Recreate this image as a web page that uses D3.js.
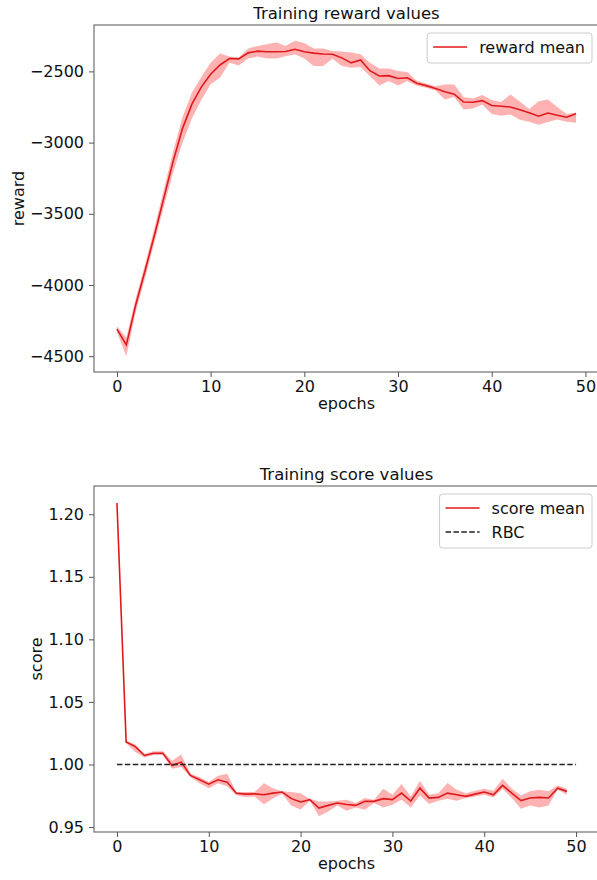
<html>
<head>
<meta charset="utf-8">
<title>training curves</title>
<script type="text/javascript" src="https://cdn.jsdelivr.net/npm/d3@7/dist/d3.min.js"></script>
<style>
	body {margin:0px; padding:0px; background:white; overflow:hidden;}
	svg text {font-family:"DejaVu Sans", sans-serif; fill:#111;}
	.axis path, .axis line {stroke:#555;}
</style>
</head>
<body>
<svg id="fig" width="597" height="880"></svg>
<script type="text/javascript">

// epochs 0..49
var epochs = [0,1,2,3,4,5,6,7,8,9,10,11,12,13,14,15,16,17,18,19,20,21,22,23,24,25,26,27,28,29,30,31,32,33,34,35,36,37,38,39,40,41,42,43,44,45,46,47,48,49];

var rewardMean = [-4310,-4420,-4140,-3900,-3650,-3390,-3130,-2900,-2730,-2610,
	-2520,-2455,-2410,-2412,-2370,-2358,-2362,-2362,-2360,-2345,
	-2362,-2372,-2378,-2380,-2405,-2440,-2420,-2495,-2532,-2530,
	-2550,-2545,-2583,-2600,-2620,-2643,-2660,-2715,-2717,-2705,
	-2740,-2745,-2750,-2770,-2790,-2815,-2792,-2808,-2822,-2797];
var rewardLo = [-4330,-4500,-4190,-3950,-3700,-3450,-3210,-3000,-2830,-2700,
	-2590,-2545,-2440,-2458,-2410,-2396,-2410,-2410,-2393,-2380,
	-2410,-2462,-2462,-2412,-2462,-2474,-2470,-2533,-2599,-2568,
	-2599,-2568,-2600,-2615,-2635,-2697,-2680,-2768,-2760,-2735,
	-2800,-2812,-2803,-2839,-2853,-2874,-2855,-2838,-2853,-2860];
var rewardHi = [-4290,-4370,-4095,-3855,-3600,-3330,-3060,-2820,-2650,-2540,
	-2440,-2375,-2396,-2403,-2340,-2321,-2310,-2295,-2321,-2285,
	-2300,-2340,-2340,-2357,-2360,-2368,-2380,-2439,-2480,-2480,
	-2498,-2505,-2566,-2585,-2605,-2592,-2592,-2679,-2690,-2665,
	-2700,-2715,-2662,-2712,-2764,-2710,-2698,-2750,-2800,-2789];

var scoreMean = [1.209,1.018,1.0143,1.0072,1.009,1.009,0.9992,1.0019,0.9912,0.9878,
	0.9843,0.9878,0.9859,0.9770,0.9763,0.9765,0.9758,0.9771,0.9780,0.9727,
	0.9700,0.9719,0.9652,0.9673,0.9692,0.9680,0.9673,0.9705,0.9705,0.9727,
	0.9719,0.9771,0.9708,0.9811,0.9731,0.9737,0.9771,0.9758,0.9745,0.9763,
	0.9780,0.9758,0.9833,0.9771,0.9711,0.9732,0.9737,0.9732,0.9811,0.9785];
var scoreLo = [1.208,1.017,1.010,1.0056,1.0075,1.0075,0.9965,0.998,0.990,0.985,
	0.981,0.985,0.9825,0.9755,0.974,0.9745,0.968,0.973,0.9765,0.967,
	0.964,0.9711,0.9586,0.9625,0.9673,0.9631,0.9657,0.9639,0.9692,0.9657,
	0.9679,0.9719,0.9657,0.9753,0.9684,0.9711,0.9727,0.9711,0.9732,0.9745,
	0.9758,0.9737,0.9806,0.9732,0.9647,0.9673,0.9657,0.9673,0.9798,0.9758];
var scoreHi = [1.210,1.019,1.016,1.0085,1.0105,1.0105,1.003,1.008,0.9925,0.990,
	0.986,0.991,0.9925,0.978,0.978,0.978,0.985,0.981,0.9785,0.978,
	0.977,0.9727,0.9705,0.9705,0.9711,0.9719,0.9692,0.9732,0.9719,0.9806,
	0.9758,0.9843,0.9745,0.9870,0.9758,0.9771,0.9851,0.9798,0.9771,0.9790,
	0.9806,0.9790,0.9886,0.9806,0.9753,0.9785,0.9798,0.9785,0.9833,0.9806];

var rbcEpochs = [0, 50];
var rbcValue = [1.0, 1.0];

var xTicks = [0, 10, 20, 30, 40, 50];
var rewardTicks = [-4500, -4000, -3500, -3000, -2500];
var scoreTicks = [0.95, 1.00, 1.05, 1.10, 1.15, 1.20];

var lineColor = '#e0191c';

var svg = d3.select('#fig');

// matplotlib style 5% margins
function padded(lo, hi) {
	var r = hi - lo;
	return [lo - 0.05*r, hi + 0.05*r];
}

function panel(opt) {
	var g = svg.append('g').attr('transform', 'translate(' + opt.left + ',' + opt.top + ')');
	var w = opt.width, h = opt.height;

	var x = d3.scaleLinear().domain(padded(opt.xmin, opt.xmax)).range([0, w]);
	var y = d3.scaleLinear().domain(padded(d3.min(opt.lo), d3.max(opt.hi))).range([h, 0]);

	// band
	var area = d3.area()
		.x(function(d, i) {return x(epochs[i])})
		.y0(function(d, i) {return y(opt.lo[i])})
		.y1(function(d, i) {return y(opt.hi[i])});
	g.append('path')
		.datum(opt.mean)
		.attr('d', area)
		.attr('fill', 'red')
		.attr('fill-opacity', 0.3);

	var line = d3.line()
		.x(function(d, i) {return x(epochs[i])})
		.y(function(d) {return y(d)});
	g.append('path')
		.datum(opt.mean)
		.attr('d', line)
		.attr('fill', 'none')
		.attr('stroke', lineColor)
		.attr('stroke-width', 1.6);

	if (opt.rbc) {
		g.append('path')
			.datum(rbcValue)
			.attr('d', d3.line().x(function(d, i) {return x(rbcEpochs[i])}).y(function(d) {return y(d)}))
			.attr('fill', 'none')
			.attr('stroke', '#222')
			.attr('stroke-width', 1.5)
			.attr('stroke-dasharray', '5.5,2.4');
	}

	// axes
	var xa = g.append('g').attr('class', 'axis')
		.attr('transform', 'translate(0,' + h + ')')
		.call(d3.axisBottom(x).tickValues(xTicks).tickSize(5).tickPadding(4).tickFormat(d3.format('d')));
	var ya = g.append('g').attr('class', 'axis')
		.call(d3.axisLeft(y).tickValues(opt.yticks).tickSize(5).tickPadding(5).tickFormat(opt.yfmt));
	xa.select('.domain').remove();
	ya.select('.domain').remove();
	xa.selectAll('text').attr('font-size', '16px').attr('fill', '#111');
	ya.selectAll('text').attr('font-size', '16px').attr('fill', '#111');

	g.append('rect')
		.attr('x', 0).attr('y', 0).attr('width', w).attr('height', h)
		.attr('fill', 'none').attr('stroke', '#555').attr('stroke-width', 1);

	g.append('text')
		.attr('x', w/2).attr('y', -6)
		.attr('text-anchor', 'middle')
		.attr('font-size', '16.5px')
		.text(opt.title);

	g.append('text')
		.attr('x', w/2).attr('y', h + 37)
		.attr('text-anchor', 'middle')
		.attr('font-size', '16px')
		.text('epochs');

	var yb = ya.node().getBBox();
	g.append('text')
		.attr('transform', 'translate(' + (yb.x - 6) + ',' + (h/2) + ') rotate(-90)')
		.attr('text-anchor', 'middle')
		.attr('font-size', '16px')
		.text(opt.ylabel);

	// legend
	var leg = g.append('g');
	var items = opt.legend;
	var texts = [];
	items.forEach(function(it, i) {
		var t = leg.append('text')
			.attr('x', 52).attr('y', 20 + i*24)
			.attr('font-size', '16px')
			.text(it.label);
		texts.push(t);
	});
	var tw = d3.max(texts, function(t) {return t.node().getComputedTextLength()});
	var bw = 52 + tw + 7, bh = 6 + items.length*24;
	leg.insert('rect', 'text')
		.attr('x', 0).attr('y', 0).attr('width', bw).attr('height', bh)
		.attr('rx', 3)
		.attr('fill', 'white').attr('fill-opacity', 0.8)
		.attr('stroke', '#ccc');
	items.forEach(function(it, i) {
		leg.append('line')
			.attr('x1', 6).attr('x2', 40)
			.attr('y1', 14 + i*24).attr('y2', 14 + i*24)
			.attr('stroke', it.color)
			.attr('stroke-width', 1.5)
			.attr('stroke-dasharray', it.dash ? '5.5,2.4' : null);
	});
	leg.attr('transform', 'translate(' + (w - 7 - bw) + ',8)');
}

panel({
	left: 94, top: 25, width: 505, height: 347,
	xmin: 0, xmax: 49,
	mean: rewardMean, lo: rewardLo, hi: rewardHi,
	yticks: rewardTicks, yfmt: d3.format('d'),
	title: 'Training reward values', ylabel: 'reward',
	legend: [{label: 'reward mean', color: lineColor}]
});

panel({
	left: 94, top: 486, width: 505, height: 346,
	xmin: 0, xmax: 50,
	mean: scoreMean, lo: scoreLo, hi: scoreHi, rbc: true,
	yticks: scoreTicks, yfmt: d3.format('.2f'),
	title: 'Training score values', ylabel: 'score',
	legend: [{label: 'score mean', color: lineColor}, {label: 'RBC', color: '#222', dash: true}]
});

</script>
</body>
</html>
